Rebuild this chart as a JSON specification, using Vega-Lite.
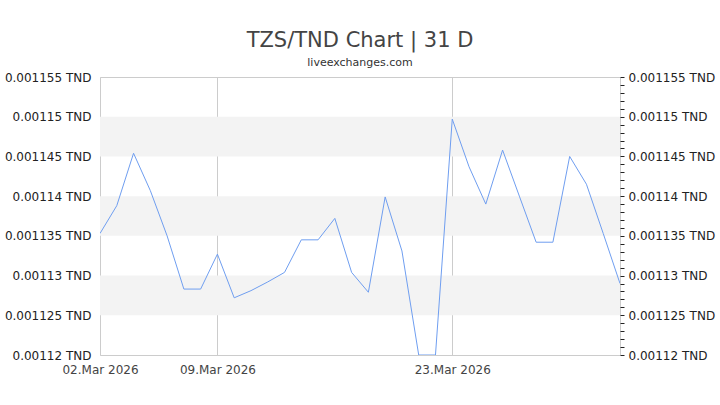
{
  "$schema": "https://vega.github.io/schema/vega-lite/v6.json",
  "width": 520,
  "height": 278,
  "autosize": "none",
  "padding": {"left": 100, "top": 77, "right": 100, "bottom": 50},
  "background": "#ffffff",
  "title": {
    "text": "TZS/TND Chart | 31 D",
    "subtitle": "liveexchanges.com",
    "anchor": "middle",
    "font": "DejaVu Sans",
    "fontSize": 21,
    "fontWeight": "normal",
    "color": "#444444",
    "subtitleFont": "DejaVu Sans",
    "subtitleFontSize": 11,
    "subtitleColor": "#333333",
    "subtitlePadding": 6,
    "offset": 3
  },
  "datasets": {
    "rates": [
      {"date": "2026-03-02", "rate": 0.0011353},
      {"date": "2026-03-03", "rate": 0.0011388},
      {"date": "2026-03-04", "rate": 0.0011454},
      {"date": "2026-03-05", "rate": 0.0011407},
      {"date": "2026-03-06", "rate": 0.001135},
      {"date": "2026-03-07", "rate": 0.0011283},
      {"date": "2026-03-08", "rate": 0.0011283},
      {"date": "2026-03-09", "rate": 0.0011327},
      {"date": "2026-03-10", "rate": 0.0011272},
      {"date": "2026-03-11", "rate": 0.0011281},
      {"date": "2026-03-12", "rate": 0.0011292},
      {"date": "2026-03-13", "rate": 0.0011304},
      {"date": "2026-03-14", "rate": 0.0011345},
      {"date": "2026-03-15", "rate": 0.0011345},
      {"date": "2026-03-16", "rate": 0.0011372},
      {"date": "2026-03-17", "rate": 0.0011304},
      {"date": "2026-03-18", "rate": 0.0011279},
      {"date": "2026-03-19", "rate": 0.0011399},
      {"date": "2026-03-20", "rate": 0.0011331},
      {"date": "2026-03-21", "rate": 0.00112},
      {"date": "2026-03-22", "rate": 0.00112},
      {"date": "2026-03-23", "rate": 0.0011497},
      {"date": "2026-03-24", "rate": 0.0011437},
      {"date": "2026-03-25", "rate": 0.001139},
      {"date": "2026-03-26", "rate": 0.0011458},
      {"date": "2026-03-27", "rate": 0.00114},
      {"date": "2026-03-28", "rate": 0.0011342},
      {"date": "2026-03-29", "rate": 0.0011342},
      {"date": "2026-03-30", "rate": 0.001145},
      {"date": "2026-03-31", "rate": 0.0011415},
      {"date": "2026-04-01", "rate": 0.0011353},
      {"date": "2026-04-02", "rate": 0.001129}
    ],
    "bands": [
      {"lo": 0.001145, "hi": 0.00115},
      {"lo": 0.001135, "hi": 0.00114},
      {"lo": 0.001125, "hi": 0.00113}
    ]
  },
  "layer": [
    {
      "data": {"name": "bands"},
      "mark": {"type": "rect", "color": "#f3f3f3"},
      "encoding": {
        "y": {
          "field": "lo",
          "type": "quantitative",
          "scale": {"domain": [0.00112, 0.001155], "nice": false, "zero": false},
          "axis": {
            "orient": "right",
            "title": null,
            "values": [0.00112, 0.001121, 0.001122, 0.001123, 0.001124, 0.001125, 0.001126, 0.001127, 0.001128, 0.001129, 0.00113, 0.001131, 0.001132, 0.001133, 0.001134, 0.001135, 0.001136, 0.001137, 0.001138, 0.001139, 0.00114, 0.001141, 0.001142, 0.001143, 0.001144, 0.001145, 0.001146, 0.001147, 0.001148, 0.001149, 0.00115, 0.001151, 0.001152, 0.001153, 0.001154, 0.001155],
            "labelExpr": "indexof([1120, 1125, 1130, 1135, 1140, 1145, 1150, 1155], round(datum.value * 1000000)) >= 0 ? format(datum.value, '.7~f') + ' TND' : ''",
            "domain": false,
            "grid": false,
            "ticks": true,
            "tickSize": 4,
            "tickColor": "#222222",
            "labelPadding": 4,
            "labelFont": "DejaVu Sans",
            "labelFontSize": 12,
            "labelColor": "#222222",
            "labelBound": false,
            "labelOverlap": false
          }
        },
        "y2": {"field": "hi"}
      }
    },
    {
      "data": {"name": "rates"},
      "mark": {"type": "line", "color": "#6f9ef0", "strokeWidth": 1, "clip": true},
      "encoding": {
        "x": {
          "field": "date",
          "type": "temporal",
          "scale": {"type": "utc", "domain": [{"year": 2026, "month": 3, "date": 2, "utc": true}, {"year": 2026, "month": 4, "date": 2, "utc": true}]},
          "axis": {
            "title": null,
            "values": [
              {"year": 2026, "month": 3, "date": 2, "utc": true},
              {"year": 2026, "month": 3, "date": 9, "utc": true},
              {"year": 2026, "month": 3, "date": 23, "utc": true}
            ],
            "format": "%d.%b %Y",
            "grid": true,
            "gridColor": "#cccccc",
            "gridWidth": 1,
            "domain": false,
            "ticks": false,
            "labelPadding": 9,
            "labelFont": "DejaVu Sans",
            "labelFontSize": 12,
            "labelColor": "#444444",
            "labelFlush": false
          }
        },
        "y": {
          "field": "rate",
          "type": "quantitative",
          "scale": {"domain": [0.00112, 0.001155], "nice": false, "zero": false},
          "axis": {
            "orient": "left",
            "title": null,
            "values": [0.00112, 0.001125, 0.00113, 0.001135, 0.00114, 0.001145, 0.00115, 0.001155],
            "labelExpr": "format(datum.value, '.7~f') + ' TND'",
            "domain": false,
            "grid": false,
            "ticks": false,
            "labelPadding": 9,
            "labelFont": "DejaVu Sans",
            "labelFontSize": 12,
            "labelColor": "#222222",
            "labelBound": false,
            "labelOverlap": false
          }
        }
      }
    }
  ],
  "resolve": {"axis": {"y": "independent"}},
  "config": {
    "view": {"stroke": "#cccccc", "strokeWidth": 1},
    "font": "DejaVu Sans"
  }
}
